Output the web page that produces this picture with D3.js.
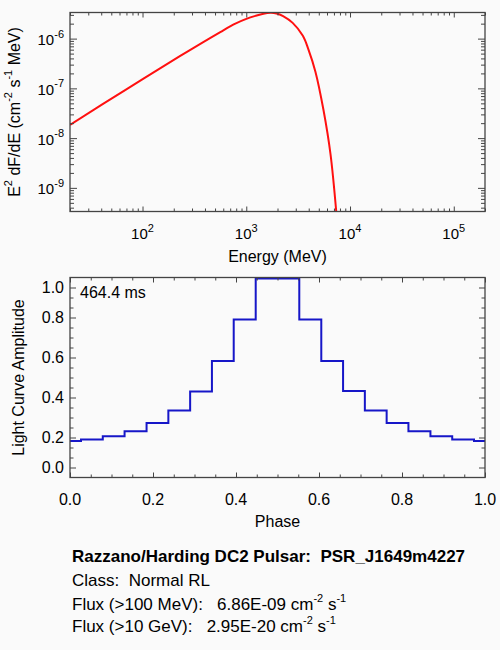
<!DOCTYPE html>
<html>
<head>
<meta charset="utf-8">
<script src="https://cdn.jsdelivr.net/npm/d3@7"></script>
<style>
  body { margin: 0; background: #fafafa; }
  text { font-family: "Liberation Sans", Arial, Helvetica, sans-serif; fill: #000; white-space: pre; }
</style>
</head>
<body>
<div id="chart"></div>
<script>
// Spectrum: energy (MeV) and E^2 dF/dE (cm^-2 s^-1 MeV)
const energyMeV = [20, 68, 231, 562, 785, 1002, 1225, 1430, 1710, 1955, 2265, 2800, 3510, 3970, 4640, 5550, 6480, 7410];
const e2dfde = [1.85e-8, 9.25e-8, 4.49e-7, 1.355e-6, 2.0e-6, 2.49e-6, 2.86e-6, 3.12e-6, 3.30e-6, 3.21e-6, 2.84e-6, 2.07e-6, 1.14e-6, 6.1e-7, 2.17e-7, 3.68e-8, 4.85e-9, 2.9e-10];

// Light curve bins (phase of bin centre, amplitude)
const lcPhase = [0.000, 0.053, 0.105, 0.158, 0.211, 0.263, 0.316, 0.368, 0.421, 0.474, 0.526, 0.579, 0.632, 0.684, 0.737, 0.789, 0.842, 0.895, 0.947, 1.000];
const lcAmp = [0.183, 0.190, 0.206, 0.231, 0.273, 0.335, 0.430, 0.583, 0.790, 0.995, 0.995, 0.790, 0.583, 0.433, 0.335, 0.273, 0.231, 0.206, 0.190, 0.183];

// Tick labels
const xTickExp = [2, 3, 4, 5];
const yTickExp = [-6, -7, -8, -9];
const phaseTicks = [0, 0.2, 0.4, 0.6, 0.8, 1.0];
const phaseTickLabels = ["0.0", "0.2", "0.4", "0.6", "0.8", "1.0"];
const ampTicks = [0.05, 0.2, 0.4, 0.6, 0.8, 0.95];
const ampTickLabels = ["0.0", "0.2", "0.4", "0.6", "0.8", "1.0"];

const frameColor = "#444";

const svg = d3.select("#chart")
  .append("svg")
    .attr("width", 500)
    .attr("height", 650);

svg.append("rect").attr("width", 500).attr("height", 650).attr("fill", "#fafafa");

// helper: text with superscripts, parts = [[str, isSup], ...]
function richText(sel, parts, size, supSize) {
  parts.forEach(([s, sup], i) => {
    const prevSup = i > 0 && parts[i - 1][1];
    const t = sel.append("tspan").text(s).attr("font-size", sup ? supSize : size);
    if (sup && !prevSup) t.attr("dy", -size * 0.5);
    if (!sup && prevSup) t.attr("dy", size * 0.5);
  });
  return sel;
}

function tickAxis(g, axis, vals, size) {
  g.call(axis.tickValues(vals).tickSize(size).tickFormat(""));
  g.select(".domain").remove();
  g.selectAll("line").attr("stroke", frameColor).attr("stroke-width", 1);
}

// ---------- Top panel: spectrum ----------
const top1 = 12.5, bot1 = 211.5, left = 70, right = 485;

const x = d3.scaleLog().domain([20, 2e5]).range([left, right]);
const y = d3.scaleLog().domain([3.35e-10, 3.35e-6]).range([bot1, top1]);

const xMajor = xTickExp.map(e => Math.pow(10, e));
const yMajor = yTickExp.map(e => Math.pow(10, e));
const xMinor = x.ticks().filter(v => !xMajor.some(m => Math.abs(m - v) / m < 1e-6));
const yMinor = y.ticks().filter(v => !yMajor.some(m => Math.abs(m - v) / m < 1e-6));

svg.append("clipPath").attr("id", "clip1")
  .append("rect").attr("x", left).attr("y", top1).attr("width", right - left).attr("height", bot1 - top1);

const line1 = d3.line()
  .x((d, i) => x(energyMeV[i]))
  .y(d => y(d))
  .curve(d3.curveCatmullRom.alpha(0.5));

svg.append("path")
  .datum(e2dfde)
  .attr("clip-path", "url(#clip1)")
  .attr("fill", "none")
  .attr("stroke", "#ff1010")
  .attr("stroke-width", 2)
  .attr("d", line1);

tickAxis(svg.append("g").attr("transform", `translate(0,${bot1})`), d3.axisBottom(x), xMajor, -5);
tickAxis(svg.append("g").attr("transform", `translate(0,${bot1})`), d3.axisBottom(x), xMinor, -3);
tickAxis(svg.append("g").attr("transform", `translate(0,${top1})`), d3.axisTop(x), xMajor, -5);
tickAxis(svg.append("g").attr("transform", `translate(0,${top1})`), d3.axisTop(x), xMinor, -3);
tickAxis(svg.append("g").attr("transform", `translate(${left},0)`), d3.axisLeft(y), yMajor, -7);
tickAxis(svg.append("g").attr("transform", `translate(${left},0)`), d3.axisLeft(y), yMinor, -4);
tickAxis(svg.append("g").attr("transform", `translate(${right},0)`), d3.axisRight(y), yMajor, -7);
tickAxis(svg.append("g").attr("transform", `translate(${right},0)`), d3.axisRight(y), yMinor, -4);

svg.append("rect")
  .attr("x", left).attr("y", top1).attr("width", right - left).attr("height", bot1 - top1)
  .attr("fill", "none").attr("stroke", frameColor).attr("stroke-width", 1.3);

xTickExp.forEach((e, i) => {
  const t = svg.append("text")
    .attr("x", x(xMajor[i]))
    .attr("y", 239)
    .attr("text-anchor", "middle");
  richText(t, [["10", false], [String(e), true]], 15, 11);
});

yTickExp.forEach((e, i) => {
  const t = svg.append("text")
    .attr("x", 64)
    .attr("y", y(yMajor[i]) + 6.5)
    .attr("text-anchor", "end");
  richText(t, [["10", false], [String(e), true]], 15, 11);
});

svg.append("text")
  .attr("x", (left + right) / 2)
  .attr("y", 262)
  .attr("text-anchor", "middle")
  .attr("font-size", 16)
  .text("Energy (MeV)");

richText(
  svg.append("text")
    .attr("transform", `translate(20,${(top1 + bot1) / 2}) rotate(-90)`)
    .attr("text-anchor", "middle"),
  [["E", false], ["2", true], [" dF/dE (cm", false], ["-2", true], [" s", false], ["-1", true], [" MeV)", false]],
  16, 11
);

// ---------- Bottom panel: light curve ----------
const top2 = 277.5, bot2 = 477.5;

const px = d3.scaleLinear().domain([0, 1]).range([left, right]);
const py = d3.scaleLinear().domain([0, 1]).range([bot2, top2]);

const phaseMinor = d3.range(0.05, 1, 0.05).filter(v => Math.abs(v * 5 - Math.round(v * 5)) > 1e-6);
const ampMinor = d3.range(0.1, 0.91, 0.05).filter(v => Math.abs(v * 5 - Math.round(v * 5)) > 1e-6);

const line2 = d3.line()
  .x((d, i) => px(lcPhase[i]))
  .y(d => py(d))
  .curve(d3.curveStep);

svg.append("path")
  .datum(lcAmp)
  .attr("fill", "none")
  .attr("stroke", "#1616c8")
  .attr("stroke-width", 2)
  .attr("d", line2);

tickAxis(svg.append("g").attr("transform", `translate(0,${bot2})`), d3.axisBottom(px), phaseTicks, -5);
tickAxis(svg.append("g").attr("transform", `translate(0,${bot2})`), d3.axisBottom(px), phaseMinor, -3);
tickAxis(svg.append("g").attr("transform", `translate(0,${top2})`), d3.axisTop(px), phaseTicks, -5);
tickAxis(svg.append("g").attr("transform", `translate(0,${top2})`), d3.axisTop(px), phaseMinor, -3);
tickAxis(svg.append("g").attr("transform", `translate(${left},0)`), d3.axisLeft(py), ampTicks, -6);
tickAxis(svg.append("g").attr("transform", `translate(${left},0)`), d3.axisLeft(py), ampMinor, -3.5);
tickAxis(svg.append("g").attr("transform", `translate(${right},0)`), d3.axisRight(py), ampTicks, -6);
tickAxis(svg.append("g").attr("transform", `translate(${right},0)`), d3.axisRight(py), ampMinor, -3.5);

svg.append("rect")
  .attr("x", left).attr("y", top2).attr("width", right - left).attr("height", bot2 - top2)
  .attr("fill", "none").attr("stroke", frameColor).attr("stroke-width", 1.3);

phaseTicks.forEach((v, i) => {
  svg.append("text")
    .attr("x", px(v))
    .attr("y", 504.5)
    .attr("text-anchor", "middle")
    .attr("font-size", 16)
    .text(phaseTickLabels[i]);
});

ampTicks.forEach((v, i) => {
  svg.append("text")
    .attr("x", 64)
    .attr("y", py(v) + 5.5)
    .attr("text-anchor", "end")
    .attr("font-size", 16)
    .text(ampTickLabels[i]);
});

svg.append("text")
  .attr("x", (left + right) / 2)
  .attr("y", 527)
  .attr("text-anchor", "middle")
  .attr("font-size", 16)
  .text("Phase");

svg.append("text")
  .attr("transform", `translate(24,${(top2 + bot2) / 2}) rotate(-90)`)
  .attr("text-anchor", "middle")
  .attr("font-size", 16)
  .text("Light Curve Amplitude");

svg.append("text")
  .attr("x", 80)
  .attr("y", 298)
  .attr("font-size", 16)
  .text("464.4 ms");

// ---------- Info text ----------
svg.append("text")
  .attr("x", 72)
  .attr("y", 562)
  .attr("font-size", 17)
  .attr("font-weight", "bold")
  .text("Razzano/Harding DC2 Pulsar:  PSR_J1649m4227");

svg.append("text")
  .attr("x", 72)
  .attr("y", 586)
  .attr("font-size", 17)
  .text("Class:  Normal RL");

richText(
  svg.append("text").attr("x", 72).attr("y", 610),
  [["Flux (>100 MeV):   6.86E-09 cm", false], ["-2", true], [" s", false], ["-1", true]],
  17, 11
);

richText(
  svg.append("text").attr("x", 72).attr("y", 632),
  [["Flux (>10 GeV):   2.95E-20 cm", false], ["-2", true], [" s", false], ["-1", true]],
  17, 11
);
</script>
</body>
</html>
